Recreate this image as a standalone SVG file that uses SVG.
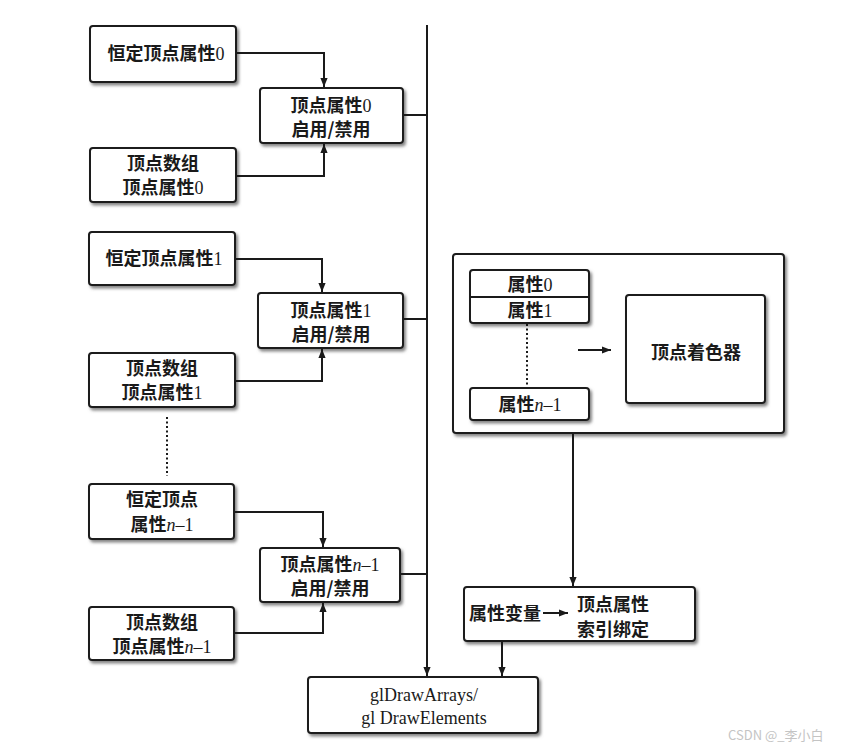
<svg xmlns="http://www.w3.org/2000/svg" width="847" height="750" viewBox="0 0 847 750">
<style>
.box{fill:#fff;stroke:#1a1a1a;stroke-width:2;filter:url(#sh)}
.t{font-family:"Noto Sans CJK SC","Noto Sans",sans-serif;font-weight:bold;font-size:18px;fill:#1a1a1a;text-anchor:middle}
.d{font-family:"Liberation Serif",serif;font-weight:normal}
.i{font-style:italic}
.g{font-family:"Liberation Serif",serif;font-size:18px;fill:#1a1a1a;text-anchor:middle}
.ln{fill:none;stroke:#1a1a1a;stroke-width:2}
.arr{fill:none;stroke:#1a1a1a;stroke-width:2;marker-end:url(#ah)}
.dot{fill:none;stroke:#1a1a1a;stroke-width:2;stroke-dasharray:2 2.5}
</style>
<defs>
<filter id="sh" x="-10%" y="-10%" width="130%" height="140%">
<feDropShadow dx="2" dy="2.5" stdDeviation="1.5" flood-color="#666" flood-opacity="0.8"/>
</filter>
<marker id="ah" viewBox="0 0 10 10" refX="10" refY="5" markerWidth="4.5" markerHeight="4.5" orient="auto" markerUnits="strokeWidth">
<path d="M0,1 L10,5 L0,9 Z" fill="#1a1a1a"/>
</marker>
</defs>
<rect width="847" height="750" fill="#fff"/>

<g id="const0">
<rect class="box" x="90" y="26" width="146" height="56" rx="3"/>
<text class="t" x="166" y="60">恒定顶点属性<tspan class="d">0</tspan></text>
</g>
<g id="enable0">
<rect class="box" x="260" y="88" width="143" height="55" rx="3"/>
<text class="t" x="331" y="112">顶点属性<tspan class="d">0</tspan></text>
<text class="t" x="331" y="136">启用/禁用</text>
</g>
<g id="array0">
<rect class="box" x="90" y="148" width="146" height="54" rx="3"/>
<text class="t" x="163" y="170">顶点数组</text>
<text class="t" x="163" y="194">顶点属性<tspan class="d">0</tspan></text>
</g>

<g id="const1">
<rect class="box" x="89" y="232" width="146" height="53" rx="3"/>
<text class="t" x="164" y="265">恒定顶点属性<tspan class="d">1</tspan></text>
</g>
<g id="enable1">
<rect class="box" x="258" y="293" width="145" height="55" rx="3"/>
<text class="t" x="331" y="317">顶点属性<tspan class="d">1</tspan></text>
<text class="t" x="331" y="341">启用/禁用</text>
</g>
<g id="array1">
<rect class="box" x="89" y="353" width="146" height="54" rx="3"/>
<text class="t" x="162" y="375">顶点数组</text>
<text class="t" x="162" y="399">顶点属性<tspan class="d">1</tspan></text>
</g>

<g id="constn">
<rect class="box" x="89" y="484" width="145" height="55" rx="3"/>
<text class="t" x="162" y="506">恒定顶点</text>
<text class="t" x="162" y="531">属性<tspan class="d i">n</tspan><tspan class="d">–1</tspan></text>
</g>
<g id="enablen">
<rect class="box" x="260" y="548" width="140" height="54" rx="3"/>
<text class="t" x="330" y="571">顶点属性<tspan class="d i">n</tspan><tspan class="d">–1</tspan></text>
<text class="t" x="330" y="595">启用/禁用</text>
</g>
<g id="arrayn">
<rect class="box" x="89" y="607" width="145" height="53" rx="3"/>
<text class="t" x="162" y="629">顶点数组</text>
<text class="t" x="162" y="653">顶点属性<tspan class="d i">n</tspan><tspan class="d">–1</tspan></text>
</g>

<g id="shaderGroup">
<rect class="box" x="453" y="254" width="331" height="179" rx="3"/>
</g>
<g id="attrs01">
<rect class="box" x="470" y="270" width="119" height="53" rx="3"/>
<path class="ln" d="M470,297 H589"/>
<text class="t" x="530" y="291">属性<tspan class="d">0</tspan></text>
<text class="t" x="530" y="317">属性<tspan class="d">1</tspan></text>
</g>
<g id="attrn">
<rect class="box" x="470" y="388" width="119" height="32" rx="3"/>
<text class="t" x="530" y="411">属性<tspan class="d i">n</tspan><tspan class="d">–1</tspan></text>
</g>
<g id="shader">
<rect class="box" x="626" y="295" width="139" height="108" rx="3"/>
<text class="t" x="696" y="359">顶点着色器</text>
</g>

<g id="binding">
<rect class="box" x="464" y="587" width="231" height="54" rx="3"/>
<text class="t" x="505" y="620">属性变量</text>
<text class="t" x="613" y="611">顶点属性</text>
<text class="t" x="613" y="636">索引绑定</text>
</g>

<g id="draw">
<rect class="box" x="308" y="677" width="230" height="56" rx="3"/>
<text class="g" x="424" y="701">glDrawArrays/</text>
<text class="g" x="424" y="724">gl DrawElements</text>
</g>

<g id="connectors">
<path class="arr" d="M427,25 V676"/>
<path class="ln" d="M403,115 H427"/>
<path class="ln" d="M403,319 H427"/>
<path class="ln" d="M400,574 H427"/>
<path class="arr" d="M236,53 H324 V87"/>
<path class="arr" d="M236,176 H324 V144"/>
<path class="arr" d="M235,259 H322 V292"/>
<path class="arr" d="M235,381 H322 V349"/>
<path class="arr" d="M234,512 H323 V547"/>
<path class="arr" d="M234,633 H323 V603"/>
<path class="arr" d="M573,434 V586"/>
<path class="arr" d="M502,642 V676"/>
<path class="arr" d="M578,350 H611"/>
<path class="arr" d="M543,613 H568"/>
<path class="dot" d="M167,417 V476"/>
<path class="dot" d="M527,324 V387"/>
</g>

<text x="728" y="740" font-family="'Noto Sans CJK SC','Noto Sans',sans-serif" font-size="13" fill="#c4c4c4">CSDN @_李小白</text>
</svg>
